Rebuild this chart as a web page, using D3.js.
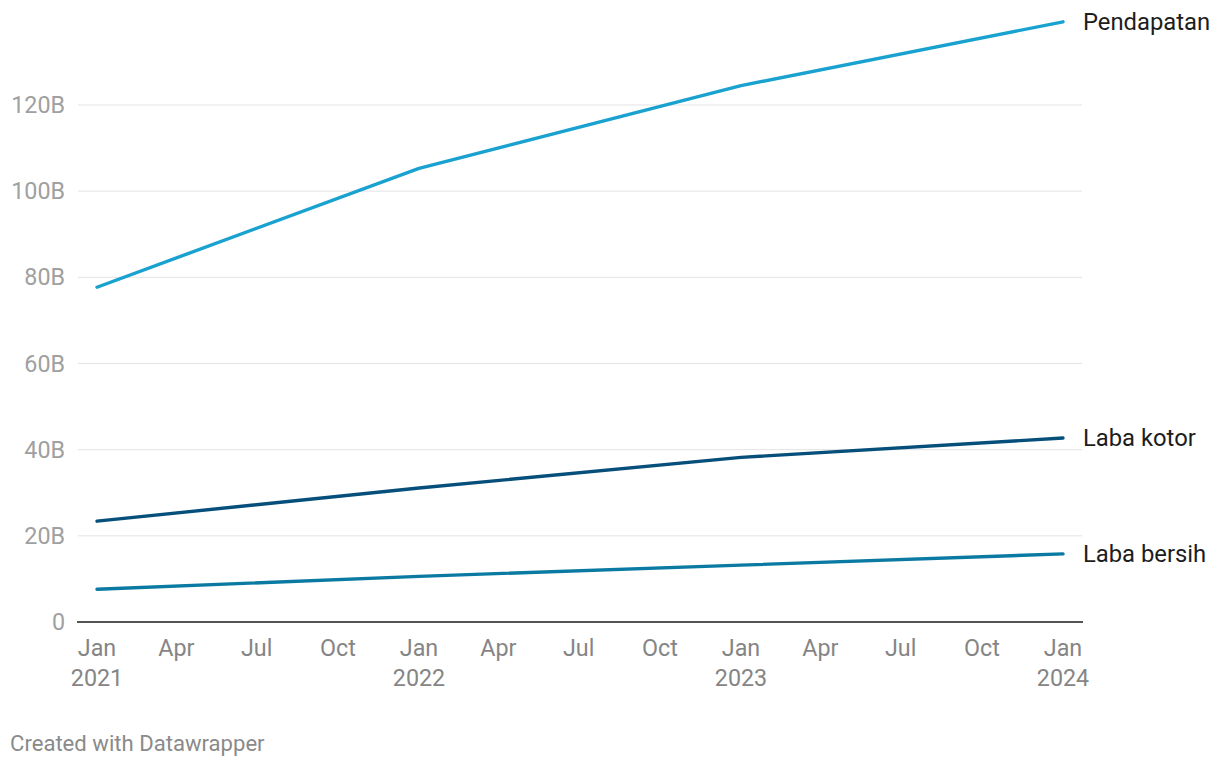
<!DOCTYPE html>
<html><head><meta charset="utf-8">
<script src="https://cdn.jsdelivr.net/npm/d3@7"></script>
<style>
html,body{margin:0;padding:0;background:#fff;}
svg{display:block;font-family:Roboto,"Noto Sans",sans-serif;}
</style></head>
<body><svg id="c" width="1220" height="768"></svg>
<script>
const dates = ["2021-01-01","2022-01-01","2023-01-01","2024-01-01"];
const pendapatan = [77.7, 105.3, 124.5, 139.3];
const labaKotor = [23.4, 31.1, 38.2, 42.7];
const labaBersih = [7.6, 10.6, 13.2, 15.8];
const seriesNames = ["Pendapatan","Laba kotor","Laba bersih"];
const seriesColors = ["#19a2d0","#064f7b","#0a7aa3"];
const yTicks = [0,20,40,60,80,100,120];

const parse = d3.timeParse("%Y-%m-%d");
const svg = d3.select("#c");
const x = d3.scaleTime().domain([parse("2021-01-01"), parse("2024-01-01")]).range([97,1063]);
const y = d3.scaleLinear().domain([0,140]).range([622,18.8]);

const series = [pendapatan, labaKotor, labaBersih].map((vals,i)=>({
  name: seriesNames[i], color: seriesColors[i],
  pts: vals.map((v,j)=>({d: parse(dates[j]), v}))
}));

const FS = 23.3;
const g = svg.append("g");
g.selectAll("line.grid").data(yTicks.filter(t=>t>0)).join("line")
  .attr("x1",78).attr("x2",1082)
  .attr("y1",d=>y(d)).attr("y2",d=>y(d))
  .attr("stroke","#e3e3e3").attr("stroke-width",1);
g.selectAll("text.yl").data(yTicks).join("text")
  .attr("x",65).attr("y",d=>y(d)).attr("dy","0.35em")
  .attr("text-anchor","end").attr("font-size",FS).attr("fill","#a0a0a0")
  .text(d=>d===0?"0":d+"B");
g.append("line").attr("x1",77).attr("x2",1083).attr("y1",y(0)).attr("y2",y(0))
  .attr("stroke","#1a1a1a").attr("stroke-width",1.5);

const xt = x.ticks(d3.timeMonth.every(3));
const xl = g.selectAll("g.xt").data(xt).join("g").attr("transform",d=>`translate(${x(d)},0)`);
xl.append("text").attr("y",656).attr("text-anchor","middle").attr("font-size",FS).attr("fill","#858585")
  .text(d=>["Jan","Apr","Jul","Oct"][d.getMonth()/3]);
xl.filter(d=>d.getMonth()===0).append("text").attr("y",686).attr("text-anchor","middle")
  .attr("font-size",FS).attr("fill","#858585").text(d=>d.getFullYear());

const line = d3.line().x(d=>x(d.d)).y(d=>y(d.v));
svg.selectAll("path.s").data(series).join("path")
  .attr("d",d=>line(d.pts)).attr("fill","none").attr("stroke",d=>d.color)
  .attr("stroke-width",3.4).attr("stroke-linecap","round").attr("stroke-linejoin","round");

svg.selectAll("text.sl").data(series).join("text")
  .attr("x",1083).attr("y",d=>y(d.pts[d.pts.length-1].v)).attr("dy","0.35em")
  .attr("font-size",23.8).attr("fill","#1d1d1d").text(d=>d.name);

svg.append("text").attr("x",10).attr("y",751).attr("font-size",22.1).attr("fill","#8a8a8a")
  .text("Created with Datawrapper");
</script></body></html>
